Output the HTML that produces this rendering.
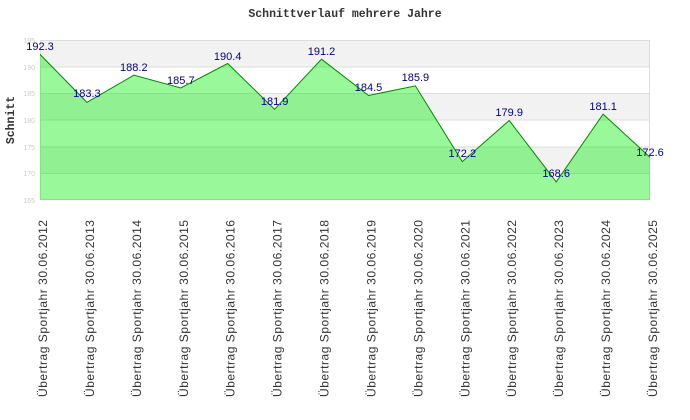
<!DOCTYPE html>
<html><head><meta charset="utf-8"><style>body{margin:0;background:#fff}svg{display:block}</style></head>
<body>
<svg width="690" height="420" xmlns="http://www.w3.org/2000/svg">
<rect x="40" y="40" width="610" height="26.67" fill="#f2f2f2"/>
<rect x="40" y="93.33" width="610" height="26.67" fill="#f2f2f2"/>
<rect x="40" y="146.67" width="610" height="26.67" fill="#f2f2f2"/>
<g stroke="#dddddd" stroke-width="1">
<line x1="40" y1="40.5" x2="650" y2="40.5"/><line x1="40" y1="67" x2="650" y2="67"/><line x1="40" y1="93.5" x2="650" y2="93.5"/><line x1="40" y1="120" x2="650" y2="120"/><line x1="40" y1="147" x2="650" y2="147"/><line x1="40" y1="173.5" x2="650" y2="173.5"/><line x1="40" y1="199.5" x2="650" y2="199.5"/>
<line x1="40.5" y1="40" x2="40.5" y2="200"/><line x1="649.5" y1="40" x2="649.5" y2="200"/>
</g>
<g font-family="Liberation Sans, sans-serif" font-size="7" fill="#cccccc" text-anchor="end">
<text x="35" y="43">195</text><text x="35" y="70">190</text><text x="35" y="96">185</text><text x="35" y="123">180</text><text x="35" y="150">175</text><text x="35" y="176">170</text><text x="35" y="203">165</text>
</g>
<polygon fill="#00ee00" fill-opacity="0.4" points="40,200 40,54.4 86.9,102.4 133.8,75.2 180.8,88 227.7,63.5 274.6,109.3 321.5,59.2 368.5,95.5 415.4,85.9 462.3,161.6 509.2,120.5 556.2,181.9 603.1,114.1 650,157.3 650,200"/>
<polyline fill="none" stroke="#008800" stroke-width="1" points="40,54.4 86.9,102.4 133.8,75.2 180.8,88 227.7,63.5 274.6,109.3 321.5,59.2 368.5,95.5 415.4,85.9 462.3,161.6 509.2,120.5 556.2,181.9 603.1,114.1 650,157.3"/>
<g font-family="Liberation Sans, sans-serif" font-size="11" fill="#000088" text-anchor="middle">
<text x="40" y="50">192.3</text><text x="86.9" y="97">183.3</text><text x="133.8" y="71">188.2</text><text x="180.8" y="84">185.7</text><text x="227.7" y="60">190.4</text><text x="274.6" y="105">181.9</text><text x="321.5" y="55">191.2</text><text x="368.5" y="91">184.5</text><text x="415.4" y="81">185.9</text><text x="462.3" y="157">172.2</text><text x="509.2" y="116">179.9</text><text x="556.2" y="177">168.6</text><text x="603.1" y="110">181.1</text><text x="650" y="156">172.6</text>
</g>
<text x="345" y="17" font-family="Liberation Mono, monospace" font-weight="bold" font-size="11.5" fill="#333" text-anchor="middle">Schnittverlauf mehrere Jahre</text>
<text transform="translate(14,120) rotate(-90)" font-family="Liberation Mono, monospace" font-weight="bold" font-size="11.5" fill="#333" text-anchor="middle">Schnitt</text>
<g font-family="Liberation Sans, sans-serif" font-size="12" fill="#333" text-anchor="end">
<text transform="translate(47,220) rotate(-90)" textLength="177">Übertrag Sportjahr 30.06.2012</text>
<text transform="translate(93.9,220) rotate(-90)" textLength="177">Übertrag Sportjahr 30.06.2013</text>
<text transform="translate(140.8,220) rotate(-90)" textLength="177">Übertrag Sportjahr 30.06.2014</text>
<text transform="translate(187.8,220) rotate(-90)" textLength="177">Übertrag Sportjahr 30.06.2015</text>
<text transform="translate(234.7,220) rotate(-90)" textLength="177">Übertrag Sportjahr 30.06.2016</text>
<text transform="translate(281.6,220) rotate(-90)" textLength="177">Übertrag Sportjahr 30.06.2017</text>
<text transform="translate(328.5,220) rotate(-90)" textLength="177">Übertrag Sportjahr 30.06.2018</text>
<text transform="translate(375.5,220) rotate(-90)" textLength="177">Übertrag Sportjahr 30.06.2019</text>
<text transform="translate(422.4,220) rotate(-90)" textLength="177">Übertrag Sportjahr 30.06.2020</text>
<text transform="translate(469.3,220) rotate(-90)" textLength="177">Übertrag Sportjahr 30.06.2021</text>
<text transform="translate(516.2,220) rotate(-90)" textLength="177">Übertrag Sportjahr 30.06.2022</text>
<text transform="translate(563.2,220) rotate(-90)" textLength="177">Übertrag Sportjahr 30.06.2023</text>
<text transform="translate(610.1,220) rotate(-90)" textLength="177">Übertrag Sportjahr 30.06.2024</text>
<text transform="translate(657,220) rotate(-90)" textLength="177">Übertrag Sportjahr 30.06.2025</text>
</g>
</svg>
</body></html>
